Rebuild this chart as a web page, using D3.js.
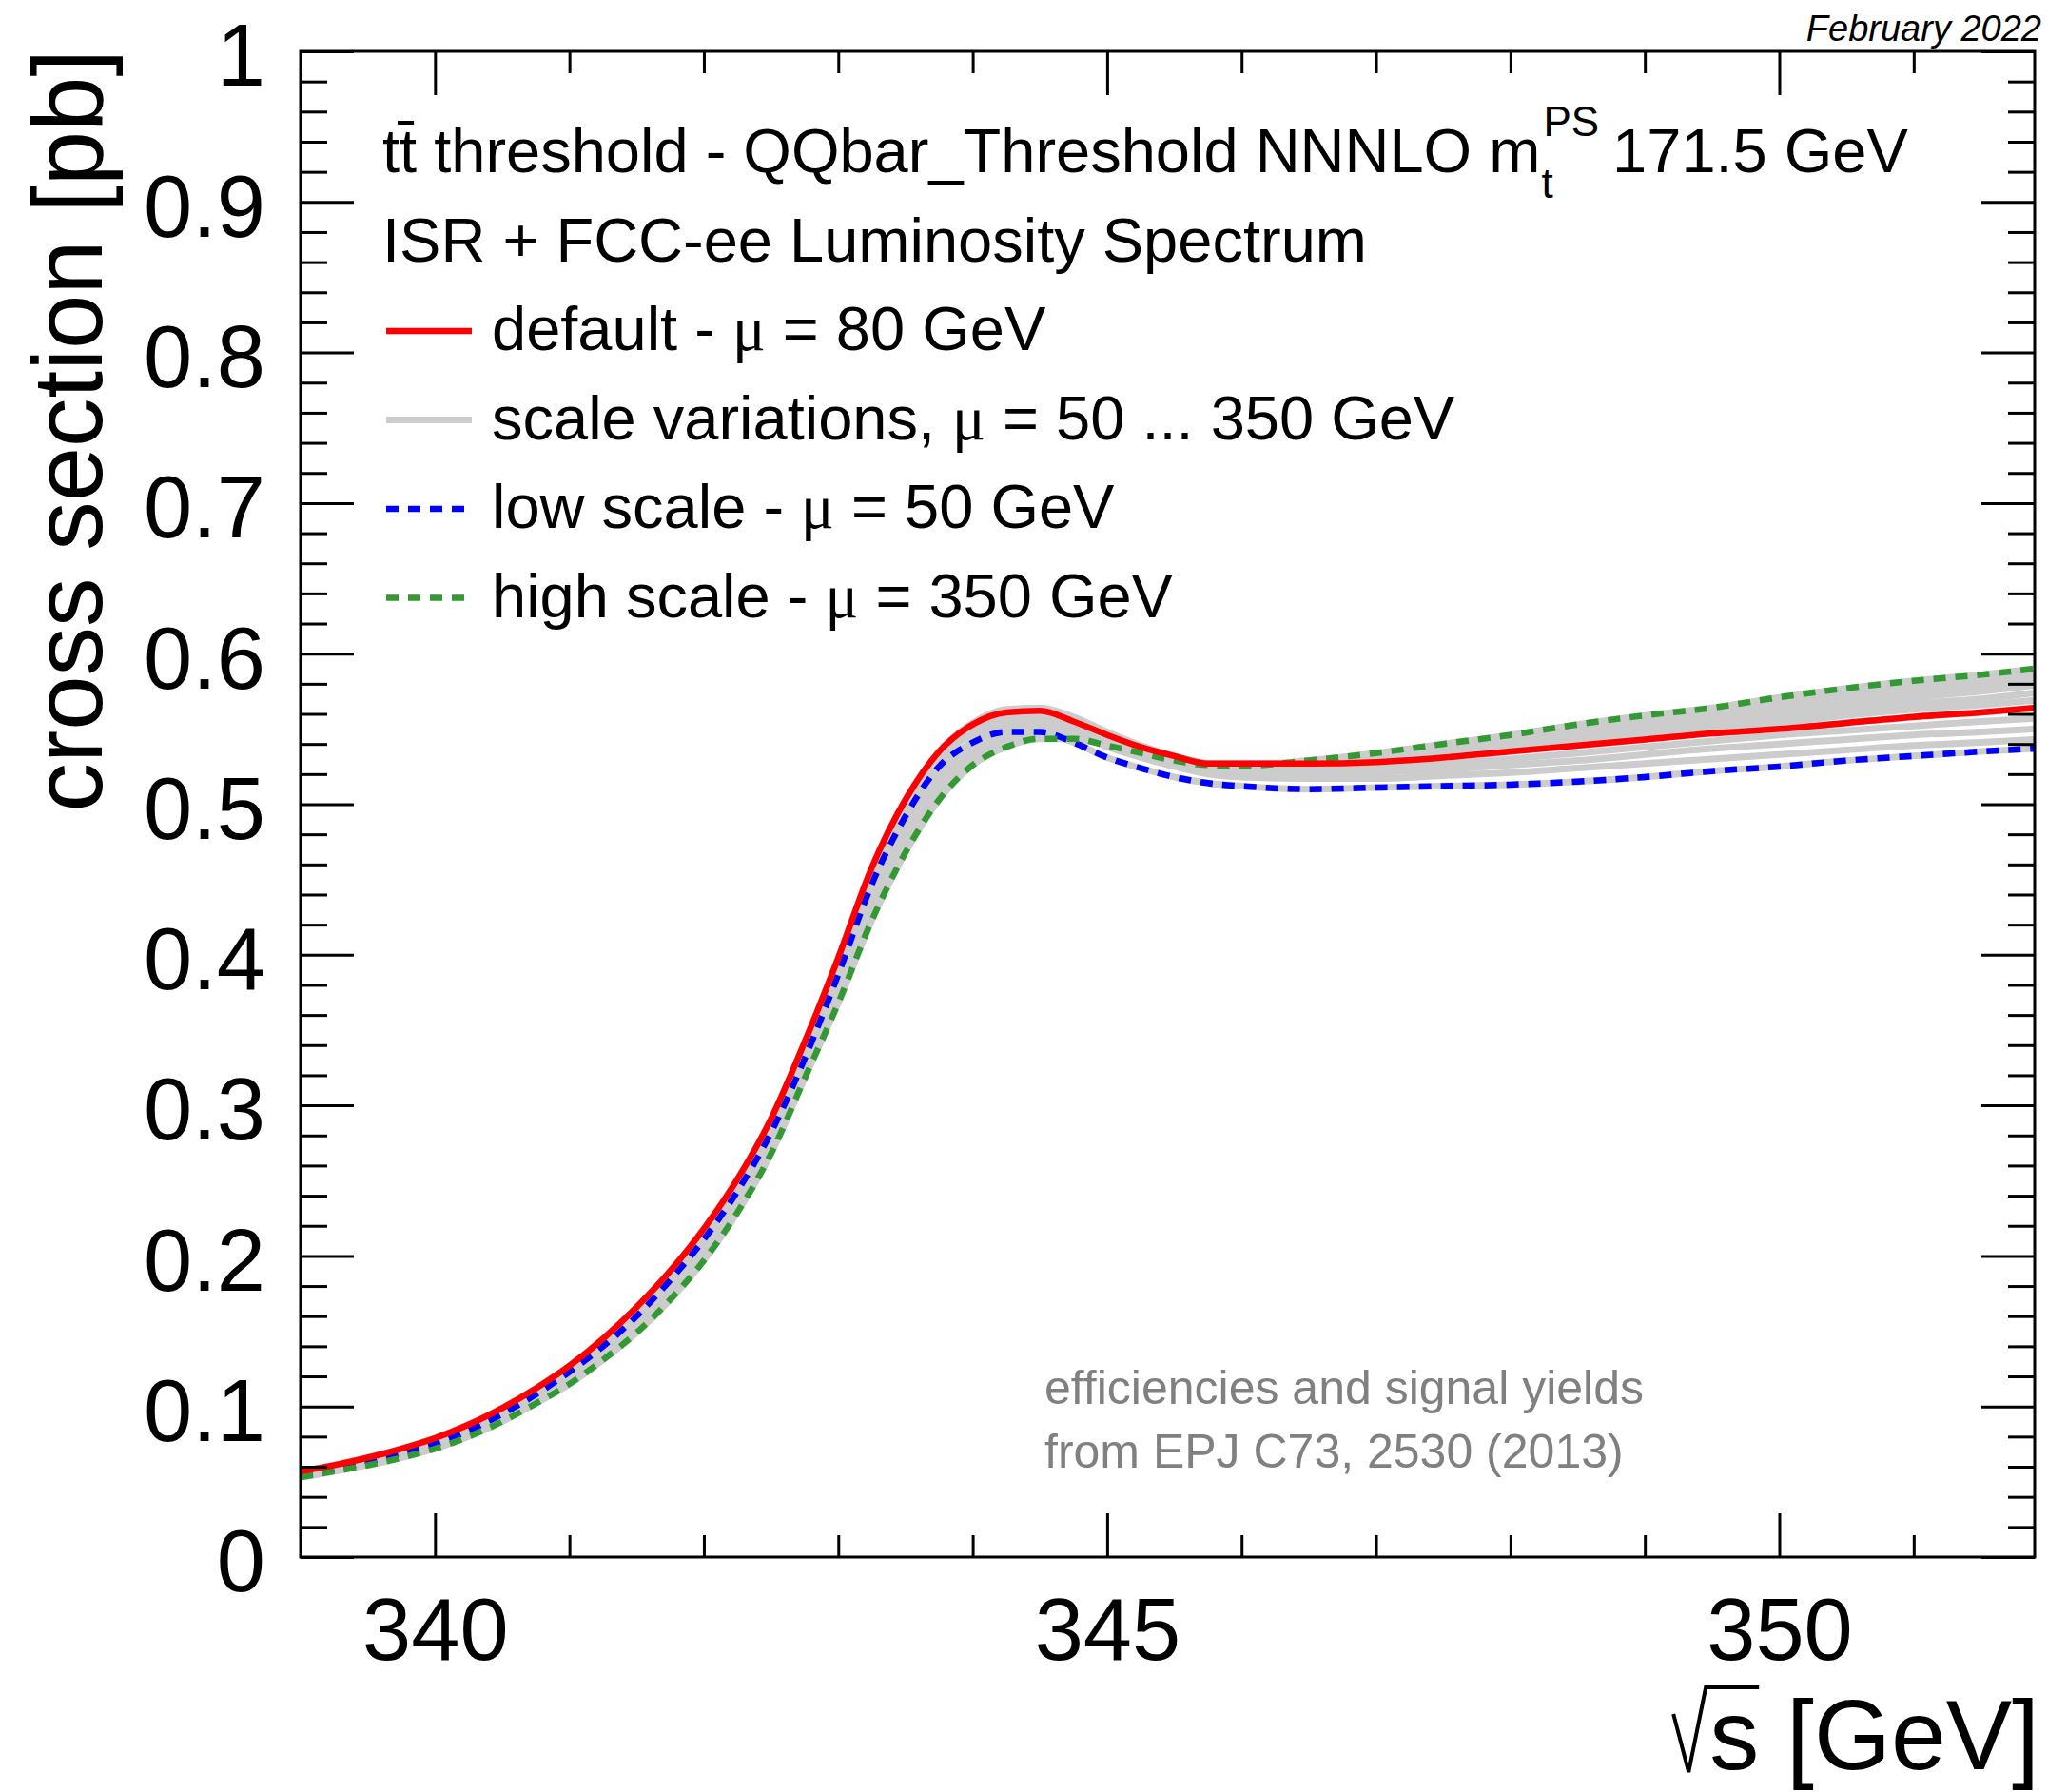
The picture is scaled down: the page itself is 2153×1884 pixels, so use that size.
<!DOCTYPE html>
<html lang="en">
<head>
<meta charset="UTF-8">
<title>ttbar threshold scan</title>
<script src="https://d3js.org/d3.v7.min.js"></script>
<style>
    body { margin: 0; background: white; }
    svg { display: block; font-family: "Liberation Sans", Arial, Helvetica, sans-serif; }
</style>
</head>
<body>
<svg id="chart" width="2153" height="1884"></svg>
<script>
    // sqrt(s) grid in GeV
    const energies = [339.00, 339.25, 339.50, 339.75, 340.00, 340.25, 340.50, 340.75, 341.00, 341.25,
        341.50, 341.75, 342.00, 342.25, 342.50, 342.75, 343.00, 343.25, 343.50, 343.75,
        344.00, 344.25, 344.50, 344.75, 345.00, 345.25, 345.50, 345.75, 346.00, 346.50,
        347.00, 347.50, 348.00, 348.50, 349.00, 349.50, 350.00, 350.50, 351.00, 351.50, 351.90];

    // cross sections in pb
    const defaultMu80 = [0.057, 0.061, 0.066, 0.072, 0.079, 0.088, 0.099, 0.112, 0.127, 0.145,
        0.166, 0.190, 0.218, 0.251, 0.291, 0.342, 0.398, 0.458, 0.503, 0.535,
        0.553, 0.561, 0.562, 0.555, 0.546, 0.538, 0.532, 0.527, 0.527, 0.527,
        0.528, 0.531, 0.535, 0.539, 0.543, 0.547, 0.550, 0.554, 0.558, 0.561, 0.564];
    const lowMu50 = [0.054, 0.058, 0.063, 0.069, 0.075, 0.084, 0.095, 0.108, 0.123, 0.140,
        0.160, 0.184, 0.211, 0.243, 0.282, 0.331, 0.387, 0.447, 0.492, 0.525,
        0.541, 0.548, 0.548, 0.541, 0.531, 0.524, 0.518, 0.514, 0.512, 0.510,
        0.511, 0.512, 0.513, 0.515, 0.518, 0.522, 0.525, 0.529, 0.532, 0.535, 0.537];
    const highMu350 = [0.053, 0.057, 0.061, 0.066, 0.072, 0.080, 0.090, 0.102, 0.115, 0.131,
        0.149, 0.171, 0.197, 0.229, 0.268, 0.318, 0.368, 0.423, 0.468, 0.503,
        0.526, 0.538, 0.5435, 0.5435, 0.539, 0.534, 0.529, 0.526, 0.5255, 0.529,
        0.534, 0.540, 0.546, 0.553, 0.559, 0.564, 0.571, 0.577, 0.582, 0.586, 0.590];

    // other scale variations (grey band)
    const mu60 = [0.055, 0.060, 0.064, 0.070, 0.077, 0.086, 0.097, 0.110, 0.125, 0.142,
        0.163, 0.187, 0.214, 0.247, 0.287, 0.336, 0.392, 0.452, 0.497, 0.530,
        0.547, 0.554, 0.555, 0.548, 0.538, 0.531, 0.525, 0.520, 0.518, 0.517,
        0.517, 0.519, 0.521, 0.524, 0.527, 0.530, 0.533, 0.536, 0.539, 0.541, 0.543];
    const mu65 = [0.056, 0.060, 0.065, 0.071, 0.078, 0.087, 0.098, 0.111, 0.126, 0.144,
        0.165, 0.189, 0.216, 0.249, 0.289, 0.339, 0.395, 0.455, 0.500, 0.533,
        0.550, 0.558, 0.559, 0.552, 0.542, 0.534, 0.528, 0.523, 0.521, 0.520,
        0.521, 0.523, 0.526, 0.529, 0.533, 0.537, 0.540, 0.543, 0.546, 0.548, 0.550];
    const mu70 = [0.057, 0.061, 0.066, 0.072, 0.079, 0.088, 0.099, 0.112, 0.127, 0.145,
        0.166, 0.190, 0.218, 0.251, 0.291, 0.341, 0.397, 0.457, 0.503, 0.535,
        0.554, 0.563, 0.564, 0.558, 0.548, 0.539, 0.532, 0.527, 0.525, 0.524,
        0.525, 0.527, 0.530, 0.534, 0.538, 0.542, 0.546, 0.549, 0.552, 0.555, 0.557];
    const mu100 = [0.056, 0.060, 0.065, 0.071, 0.078, 0.087, 0.097, 0.110, 0.125, 0.142,
        0.163, 0.186, 0.214, 0.246, 0.286, 0.337, 0.392, 0.451, 0.497, 0.529,
        0.548, 0.557, 0.559, 0.553, 0.545, 0.537, 0.531, 0.527, 0.527, 0.527,
        0.529, 0.533, 0.537, 0.542, 0.546, 0.551, 0.554, 0.559, 0.563, 0.566, 0.569];
    const mu130 = [0.055, 0.059, 0.064, 0.070, 0.076, 0.085, 0.096, 0.108, 0.122, 0.139,
        0.159, 0.182, 0.209, 0.241, 0.281, 0.332, 0.386, 0.444, 0.489, 0.522,
        0.542, 0.552, 0.555, 0.551, 0.543, 0.536, 0.531, 0.527, 0.527, 0.528,
        0.530, 0.534, 0.539, 0.544, 0.549, 0.553, 0.558, 0.562, 0.567, 0.570, 0.574];
    const mu170 = [0.055, 0.059, 0.063, 0.069, 0.075, 0.084, 0.094, 0.107, 0.121, 0.137,
        0.157, 0.179, 0.206, 0.238, 0.278, 0.328, 0.381, 0.438, 0.483, 0.516,
        0.538, 0.548, 0.552, 0.549, 0.542, 0.536, 0.530, 0.527, 0.526, 0.528,
        0.531, 0.536, 0.541, 0.547, 0.551, 0.556, 0.561, 0.566, 0.571, 0.575, 0.579];
    const mu220 = [0.054, 0.058, 0.062, 0.068, 0.074, 0.082, 0.093, 0.105, 0.119, 0.135,
        0.154, 0.176, 0.203, 0.235, 0.275, 0.325, 0.376, 0.432, 0.477, 0.511,
        0.533, 0.544, 0.549, 0.547, 0.541, 0.535, 0.530, 0.526, 0.526, 0.528,
        0.532, 0.537, 0.543, 0.549, 0.554, 0.559, 0.564, 0.570, 0.575, 0.579, 0.583];
    const mu280 = [0.053, 0.057, 0.062, 0.067, 0.073, 0.081, 0.091, 0.103, 0.117, 0.133,
        0.151, 0.173, 0.199, 0.231, 0.271, 0.321, 0.372, 0.427, 0.472, 0.507,
        0.529, 0.541, 0.546, 0.545, 0.540, 0.535, 0.529, 0.526, 0.5255, 0.529,
        0.533, 0.539, 0.545, 0.551, 0.557, 0.562, 0.568, 0.574, 0.579, 0.583, 0.587];

    const xMajor = [340, 345, 350];
    const xMinor = [339, 341, 342, 343, 344, 346, 347, 348, 349, 351];
    const yMajor = [0, 0.1, 0.2, 0.3, 0.4, 0.5, 0.6, 0.7, 0.8, 0.9, 1];
    const yTickLabels = ["0", "0.1", "0.2", "0.3", "0.4", "0.5", "0.6", "0.7", "0.8", "0.9", "1"];

    const legendTitle = ["ISR + FCC-ee Luminosity Spectrum"];
    const legendEntries = [
        {pre: "default - ", post: " = 80 GeV", color: "#ff0000", dash: null, width: 6.5},
        {pre: "scale variations, ", post: " = 50 ... 350 GeV", color: "#cccccc", dash: null, width: 7},
        {pre: "low scale - ", post: " = 50 GeV", color: "#0000ff", dash: "13 10", width: 6.5},
        {pre: "high scale - ", post: " = 350 GeV", color: "#339933", dash: "13 10", width: 6.5}
    ];

    const W = 2153, H = 1884;
    const fLeft = 316, fRight = 2139, fTop = 54, fBottom = 1637;

    const svg = d3.select("#chart");
    svg.append("rect").attr("width", W).attr("height", H).attr("fill", "white");

    const x = d3.scaleLinear().domain([339, 351.9]).range([fLeft, fRight]);
    const y = d3.scaleLinear().domain([0, 1]).range([fBottom, fTop]);

    svg.append("clipPath").attr("id", "frame")
        .append("rect").attr("x", fLeft).attr("y", fTop)
        .attr("width", fRight - fLeft).attr("height", fBottom - fTop);

    const line = d3.line()
        .x((d, i) => x(energies[i]))
        .y(d => y(d))
        .curve(d3.curveMonotoneX);

    const curves = svg.append("g").attr("clip-path", "url(#frame)")
        .attr("fill", "none").attr("stroke-linejoin", "round");

    // grey scale variations, including grey copies under the highlighted ones
    const greys = [lowMu50, mu60, mu65, mu70, defaultMu80, mu100, mu130, mu170, mu220, mu280, highMu350];
    curves.selectAll("path.grey")
        .data(greys)
        .join("path")
        .attr("class", "grey")
        .attr("d", line)
        .attr("stroke", "#cccccc")
        .attr("stroke-width", 7);

    curves.append("path").attr("d", line(lowMu50))
        .attr("stroke", "#0000ff").attr("stroke-width", 6.5).attr("stroke-dasharray", "13 10");
    curves.append("path").attr("d", line(highMu350))
        .attr("stroke", "#339933").attr("stroke-width", 6.5).attr("stroke-dasharray", "13 10");
    curves.append("path").attr("d", line(defaultMu80))
        .attr("stroke", "#ff0000").attr("stroke-width", 6.5);

    // axes: ticks on all four sides, pointing inward
    const yMinor = d3.range(0, 51).filter(i => i % 5 !== 0).map(i => i * 0.02);
    const font = "Liberation Sans, Arial, Helvetica, sans-serif";

    function styleAxis(g) {
        g.select(".domain").remove();
        g.selectAll("line").attr("stroke-width", 3).attr("stroke", "black");
        g.attr("font-family", font).attr("font-size", 92);
        g.selectAll("text").attr("fill", "black");
    }

    svg.append("g").attr("transform", `translate(0,${fBottom})`)
        .call(d3.axisBottom(x).tickValues(xMajor).tickSize(-46).tickPadding(43).tickFormat(d3.format("d")))
        .call(styleAxis);
    svg.append("g").attr("transform", `translate(0,${fBottom})`)
        .call(d3.axisBottom(x).tickValues(xMinor).tickSize(-23).tickFormat(""))
        .call(styleAxis);
    svg.append("g").attr("transform", `translate(0,${fTop})`)
        .call(d3.axisTop(x).tickValues(xMajor).tickSize(-46).tickFormat(""))
        .call(styleAxis);
    svg.append("g").attr("transform", `translate(0,${fTop})`)
        .call(d3.axisTop(x).tickValues(xMinor).tickSize(-23).tickFormat(""))
        .call(styleAxis);

    svg.append("g").attr("transform", `translate(${fLeft},0)`)
        .call(d3.axisLeft(y).tickValues(yMajor).tickSize(-56).tickPadding(37)
            .tickFormat((d, i) => yTickLabels[i]))
        .call(styleAxis)
        .call(g => g.selectAll("text").attr("dy", "0.39em"));
    svg.append("g").attr("transform", `translate(${fLeft},0)`)
        .call(d3.axisLeft(y).tickValues(yMinor).tickSize(-28).tickFormat(""))
        .call(styleAxis);
    svg.append("g").attr("transform", `translate(${fRight},0)`)
        .call(d3.axisRight(y).tickValues(yMajor).tickSize(-56).tickFormat(""))
        .call(styleAxis);
    svg.append("g").attr("transform", `translate(${fRight},0)`)
        .call(d3.axisRight(y).tickValues(yMinor).tickSize(-28).tickFormat(""))
        .call(styleAxis);

    svg.append("rect")
        .attr("x", fLeft).attr("y", fTop)
        .attr("width", fRight - fLeft).attr("height", fBottom - fTop)
        .attr("fill", "none").attr("stroke", "black").attr("stroke-width", 3);

    // axis titles
    svg.append("text")
        .attr("transform", "translate(107,52) rotate(-90)")
        .attr("text-anchor", "end")
        .attr("font-size", 103)
        .text("cross section [pb]");

    const b = 1860;
    const xt = svg.append("text")
        .attr("x", 2144).attr("y", b)
        .attr("text-anchor", "end")
        .attr("font-size", 104)
        .text("s [GeV]");
    const xtLen = xt.node().getComputedTextLength();
    const sW = xt.node().getSubStringLength(0, 1);
    const x0 = 2144 - xtLen;
    svg.append("path")
        .attr("d", `M${x0 - 38},${b - 58}L${x0 - 22},${b + 3}L${x0 - 4},${b - 86}L${x0 + sW},${b - 86}`)
        .attr("fill", "none").attr("stroke", "black").attr("stroke-width", 4)
        .attr("stroke-linejoin", "miter");

    // date stamp
    svg.append("text")
        .attr("x", 2146).attr("y", 43)
        .attr("text-anchor", "end")
        .attr("font-size", 38)
        .attr("font-style", "italic")
        .text("February 2022");

    // legend header line with tt-bar and m_t^PS
    const fs = 65, lx = 402, ly0 = 181, lstep = 93.5;
    const t1 = svg.append("text").attr("x", lx).attr("y", ly0).attr("font-size", fs)
        .text("tt threshold - QQbar_Threshold NNNLO m");
    const tW = t1.node().getSubStringLength(0, 1);
    const mEnd = lx + t1.node().getComputedTextLength();
    svg.append("rect")
        .attr("x", lx + tW - 2).attr("y", ly0 - 54)
        .attr("width", tW - 1).attr("height", 4).attr("fill", "black");
    const sup = svg.append("text").attr("x", mEnd + 3).attr("y", ly0 - 38)
        .attr("font-size", 44).text("PS");
    svg.append("text").attr("x", mEnd + 1).attr("y", ly0 + 27)
        .attr("font-size", 44).text("t");
    const supEnd = mEnd + 3 + sup.node().getComputedTextLength();
    svg.append("text").attr("x", supEnd + 14).attr("y", ly0).attr("font-size", fs)
        .text("171.5 GeV");

    svg.selectAll("text.ltitle")
        .data(legendTitle)
        .join("text")
        .attr("class", "ltitle")
        .attr("x", lx).attr("y", (d, i) => ly0 + lstep * (i + 1))
        .attr("font-size", fs)
        .text(d => d);

    const entry = svg.selectAll("g.entry")
        .data(legendEntries)
        .join("g")
        .attr("class", "entry")
        .attr("transform", (d, i) => `translate(0,${ly0 + lstep * (i + 2)})`);
    entry.append("line")
        .attr("x1", 406).attr("x2", 496)
        .attr("y1", -20).attr("y2", -20)
        .attr("stroke", d => d.color)
        .attr("stroke-width", d => d.width)
        .attr("stroke-dasharray", d => d.dash);
    const et = entry.append("text").attr("x", 517).attr("font-size", fs);
    et.append("tspan").text(d => d.pre);
    et.append("tspan").attr("font-family", "Liberation Serif, Times New Roman, serif").text("\u03bc");
    et.append("tspan").text(d => d.post);

    // note
    const note = ["efficiencies and signal yields", "from EPJ C73, 2530 (2013)"];
    svg.selectAll("text.note")
        .data(note)
        .join("text")
        .attr("class", "note")
        .attr("x", 1098).attr("y", (d, i) => 1476 + 67 * i)
        .attr("font-size", 50)
        .attr("fill", "#808080")
        .text(d => d);
</script>
</body>
</html>
